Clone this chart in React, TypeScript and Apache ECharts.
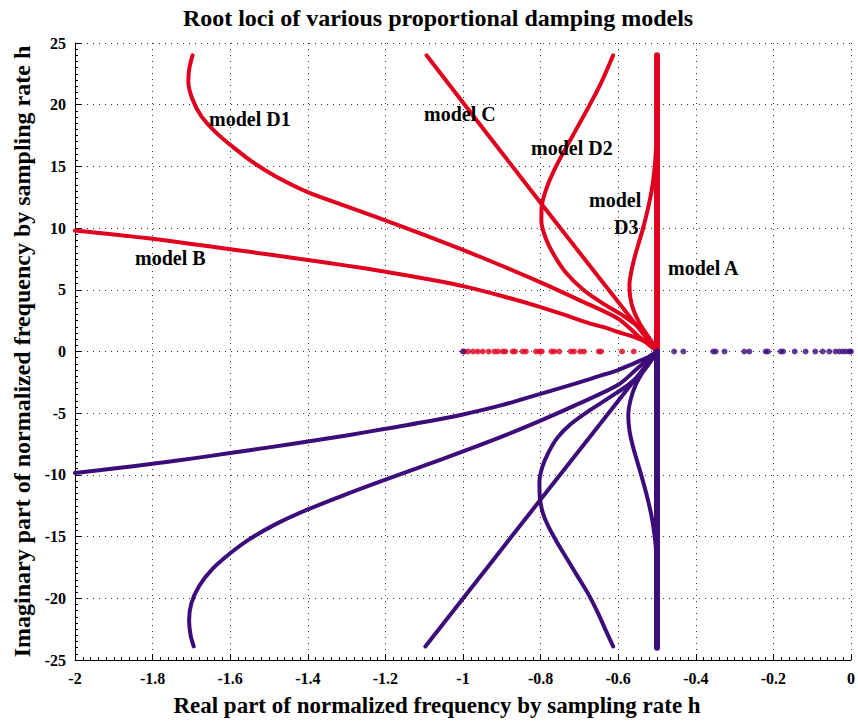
import React, { useEffect, useRef } from "react";
import * as echarts from "echarts";

const RED = "#e0001e";
const PURPLE = "#3c0c7a";

// Upper half (red) loci: [real, imag]
const modelA_up = [[-0.5, 0], [-0.5, 24]];
const modelB_up = [[-0.5, 0], [-0.52, 0.62], [-0.545, 1.0], [-0.571, 1.3], [-0.6, 1.58], [-0.635, 1.95], [-0.672, 2.26], [-0.723, 2.8], [-0.8, 3.6], [-0.9, 4.5], [-1.0, 5.3], [-1.1, 5.92], [-1.2, 6.47], [-1.3, 6.96], [-1.4, 7.42], [-1.5, 7.86], [-1.6, 8.29], [-1.7, 8.72], [-1.8, 9.13], [-1.9, 9.48], [-2.0, 9.8]];
const modelC_up = [[-0.5, 0], [-0.8, 12.05], [-1.094, 24]];
const modelD1_up = [[-0.5, 0], [-0.55, 1.3], [-0.6, 2.66], [-0.7, 4.16], [-0.8, 5.6], [-0.9, 6.95], [-1.0, 8.23], [-1.1, 9.45], [-1.2, 10.62], [-1.3, 11.76], [-1.4, 12.92], [-1.48, 14.15], [-1.54, 15.3], [-1.59, 16.5], [-1.635, 17.7], [-1.675, 19.1], [-1.698, 20.5], [-1.708, 21.9], [-1.705, 23.0], [-1.697, 24]];
const modelD2_up = [[-0.5, 0], [-0.53, 1.5], [-0.585, 2.85], [-0.64, 3.9], [-0.69, 5.0], [-0.735, 6.4], [-0.765, 7.8], [-0.787, 9.2], [-0.798, 10.6], [-0.797, 11.8], [-0.785, 13.2], [-0.765, 14.7], [-0.74, 16.2], [-0.71, 17.9], [-0.68, 19.6], [-0.645, 21.7], [-0.613, 24]];
const modelD3_up = [[-0.5, 0], [-0.51, 0.5], [-0.525, 1.3], [-0.545, 2.3], [-0.56, 3.3], [-0.569, 4.4], [-0.571, 5.4], [-0.566, 6.5], [-0.558, 7.6], [-0.547, 8.8], [-0.535, 10.1], [-0.524, 11.5], [-0.514, 13.0], [-0.507, 14.6], [-0.503, 16.2], [-0.501, 17.8], [-0.5, 19.5], [-0.5, 24]];

// Lower half (purple) loci
const modelA_lo = [[-0.5, 0], [-0.5, -24]];
const modelB_lo = [[-0.5, 0], [-0.52, -0.4], [-0.54, -0.7], [-0.57, -1.1], [-0.6, -1.5], [-0.65, -2.0], [-0.7, -2.5], [-0.8, -3.43], [-0.9, -4.35], [-1.0, -5.1], [-1.1, -5.72], [-1.2, -6.26], [-1.3, -6.8], [-1.4, -7.29], [-1.5, -7.77], [-1.6, -8.23], [-1.7, -8.68], [-1.8, -9.1], [-1.9, -9.48], [-2.0, -9.85]];
const modelC_lo = [[-0.5, 0], [-0.8, -12.0], [-1.097, -23.9]];
const modelD1_lo = [[-0.5, 0], [-0.55, -1.35], [-0.6, -2.7], [-0.7, -4.2], [-0.8, -5.6], [-0.9, -6.9], [-1.0, -8.1], [-1.1, -9.25], [-1.2, -10.38], [-1.3, -11.55], [-1.4, -12.8], [-1.48, -13.95], [-1.55, -15.2], [-1.6, -16.35], [-1.645, -17.6], [-1.68, -19.0], [-1.7, -20.4], [-1.706, -21.8], [-1.702, -23.0], [-1.694, -23.9]];
const modelD2_lo = [[-0.5, 0], [-0.53, -1.4], [-0.57, -2.6], [-0.621, -3.7], [-0.675, -4.8], [-0.723, -5.9], [-0.757, -7.0], [-0.78, -8.2], [-0.796, -9.4], [-0.803, -10.6], [-0.802, -11.8], [-0.794, -13.1], [-0.778, -14.3], [-0.757, -15.5], [-0.732, -16.8], [-0.705, -18.2], [-0.678, -19.6], [-0.652, -21.2], [-0.632, -22.6], [-0.613, -23.9]];
const modelD3_lo = [[-0.5, 0], [-0.515, -0.7], [-0.535, -1.6], [-0.555, -2.7], [-0.568, -3.9], [-0.574, -5.2], [-0.571, -6.4], [-0.562, -7.7], [-0.551, -8.9], [-0.538, -10.3], [-0.526, -11.7], [-0.515, -13.2], [-0.507, -14.7], [-0.502, -16.3], [-0.5, -18], [-0.5, -24]];

// Real-axis poles
const realRed = [-0.997, -0.987, -0.974, -0.962, -0.949, -0.934, -0.919, -0.91, -0.897, -0.891, -0.872, -0.866, -0.846, -0.838, -0.812, -0.803, -0.797, -0.772, -0.765, -0.752, -0.722, -0.714, -0.698, -0.688, -0.65, -0.644, -0.59, -0.56];
const realPurple = [-1.0, -0.456, -0.432, -0.355, -0.349, -0.326, -0.275, -0.262, -0.22, -0.214, -0.181, -0.175, -0.145, -0.117, -0.092, -0.073, -0.056, -0.04, -0.03, -0.021, -0.013, -0.004, 0.0];

const labels = [
  { text: "model D1", x: 209, y: 119 },
  { text: "model C", x: 424, y: 114 },
  { text: "model D2", x: 531, y: 148 },
  { text: "model", x: 589, y: 200 },
  { text: "D3", x: 614, y: 227 },
  { text: "model A", x: 668, y: 268 },
  { text: "model B", x: 135, y: 258 },
];

const FONT = "'Liberation Serif', 'Times New Roman', serif";

export default function App() {
  const ref = useRef<HTMLDivElement>(null);
  useEffect(() => {
    if (!ref.current) return;
    const chart = echarts.init(ref.current, null, { renderer: "svg" });
    const line = (data: number[][], color: string, width = 4) => ({
      type: "line",
      data,
      smooth: 0.3,
      symbol: "none",
      lineStyle: { color, width, cap: "round", join: "round" },
      z: 3,
    });
    const curvesUp = [modelB_up, modelC_up, modelD1_up, modelD2_up, modelD3_up];
    const curvesLo = [modelB_lo, modelC_lo, modelD1_lo, modelD2_lo, modelD3_lo];
    const series: any[] = [
      {
        type: "scatter",
        data: realRed.map((v) => [v, 0]),
        symbolSize: 6,
        itemStyle: { color: RED },
        z: 2,
      },
      {
        type: "scatter",
        data: realPurple.map((v) => [v, 0]),
        symbolSize: 6,
        itemStyle: { color: PURPLE },
        z: 2,
      },
      ...curvesUp.map((d) => line(d, RED)),
      line(modelA_up, RED, 6),
      ...curvesLo.map((d) => line(d, PURPLE)),
      line(modelA_lo, PURPLE, 6),
    ];
    const axisLabel = { color: "#000", fontFamily: FONT, fontWeight: "bold", fontSize: 16 };
    const splitLine = { show: true, lineStyle: { color: "#333", width: 1, type: [1, 5] } };
    chart.setOption({
      animation: false,
      backgroundColor: "#fff",
      grid: { left: 75, right: 2, top: 43, bottom: 63, containLabel: false },
      xAxis: {
        type: "value",
        min: -2,
        max: 0,
        interval: 0.2,
        axisLine: { onZero: false, lineStyle: { color: "#000", width: 1 } },
        axisTick: { inside: true, length: 6, lineStyle: { color: "#000" } },
        minorTick: { show: true, splitNumber: 10, length: 3, lineStyle: { color: "#000" } },
        axisLabel: { ...axisLabel, margin: 10, formatter: (v: number) => String(Math.round(v * 10) / 10) },
        splitLine,
      },
      yAxis: {
        type: "value",
        min: -25,
        max: 25,
        interval: 5,
        axisLine: { show: true, onZero: false, lineStyle: { color: "#000", width: 1 } },
        axisTick: { show: true, inside: true, length: 6, lineStyle: { color: "#000" } },
        minorTick: { show: true, splitNumber: 10, length: 3, lineStyle: { color: "#000" } },
        axisLabel: { ...axisLabel, margin: 9 },
        splitLine,
        name: "Imaginary part of normalized frequency by sampling rate h",
        nameLocation: "middle",
        nameGap: 41,
        nameTextStyle: { color: "#000", fontFamily: FONT, fontWeight: "bold", fontSize: 24 },
      },
      graphic: [
        {
          type: "text",
          x: 438,
          y: 18,
          style: {
            text: "Root loci of various proportional damping models",
            fill: "#000",
            font: `bold 24px ${FONT}`,
            textAlign: "center",
            textVerticalAlign: "middle",
          },
        },
        {
          type: "text",
          x: 437,
          y: 705,
          style: {
            text: "Real part of normalized frequency by sampling rate h",
            fill: "#000",
            font: `bold 23px ${FONT}`,
            textAlign: "center",
            textVerticalAlign: "middle",
          },
        },
        ...labels.map((l) => ({
          type: "text",
          x: l.x,
          y: l.y,
          z: 10,
          style: {
            text: l.text,
            fill: "#000",
            font: `bold 20px ${FONT}`,
            textAlign: "left",
            textVerticalAlign: "middle",
          },
        })),
      ],
      series,
    });
    return () => chart.dispose();
  }, []);
  return <div ref={ref} style={{ position: "fixed", left: 0, top: 0, width: 858, height: 723 }} />;
}
